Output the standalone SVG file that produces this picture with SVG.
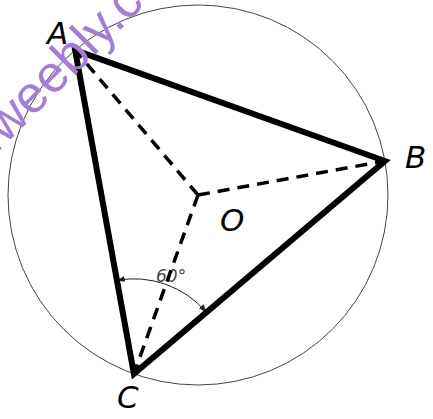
<svg xmlns="http://www.w3.org/2000/svg" width="433" height="419" viewBox="0 0 433 419">
<style>
.lbl{font-family:"DejaVu Sans",sans-serif;font-style:italic;font-size:31px;fill:#000}
.ang{font-family:"DejaVu Sans",sans-serif;font-style:italic;font-weight:200;font-size:17px;fill:#444}
.wm{font-family:"Liberation Sans",Arial,sans-serif;font-size:52px;fill:#a47ed6}
.dash{stroke:#000;stroke-width:3.5;stroke-dasharray:12 8;fill:none}
</style>
<defs>
<marker id="ah" viewBox="0 0 10 10" refX="10" refY="5" markerWidth="8" markerHeight="6" markerUnits="userSpaceOnUse" orient="auto-start-reverse" preserveAspectRatio="none">
<path d="M0,0 L10,5 L0,10 z" fill="#222"/>
</marker>
</defs>
<rect width="433" height="419" fill="#fff"/>
<g id="circle"><circle cx="198" cy="195" r="190" fill="none" stroke="#444" stroke-width="1"/></g>
<g id="angle"><text class="ang" x="156" y="282">60°</text></g>
<g id="connectors">
<path class="dash" d="M198,195 L75.1,50.1"/>
<path class="dash" d="M198,195 L384.9,161"/>
<path class="dash" d="M198,195 L133.9,373.9"/>
<path d="M116.9,280.4 A95,95 0 0 1 206.4,312.4" fill="none" stroke="#222" stroke-width="1" marker-start="url(#ah)" marker-end="url(#ah)"/>
<path d="M75.1,50.1 L384.9,161 L133.9,373.9 Z" fill="none" stroke="#000" stroke-width="6" stroke-linejoin="miter"/>
</g>
<g id="A"><text class="lbl" x="47" y="44">A</text></g>
<g id="B"><text class="lbl" x="405" y="168">B</text></g>
<g id="O"><text class="lbl" x="220" y="231">O</text></g>
<g id="C"><text class="lbl" x="117" y="408">C</text></g>
<g id="watermark"><text class="wm" transform="translate(-5,155) rotate(-45)">.weebly.c</text></g>
</svg>
